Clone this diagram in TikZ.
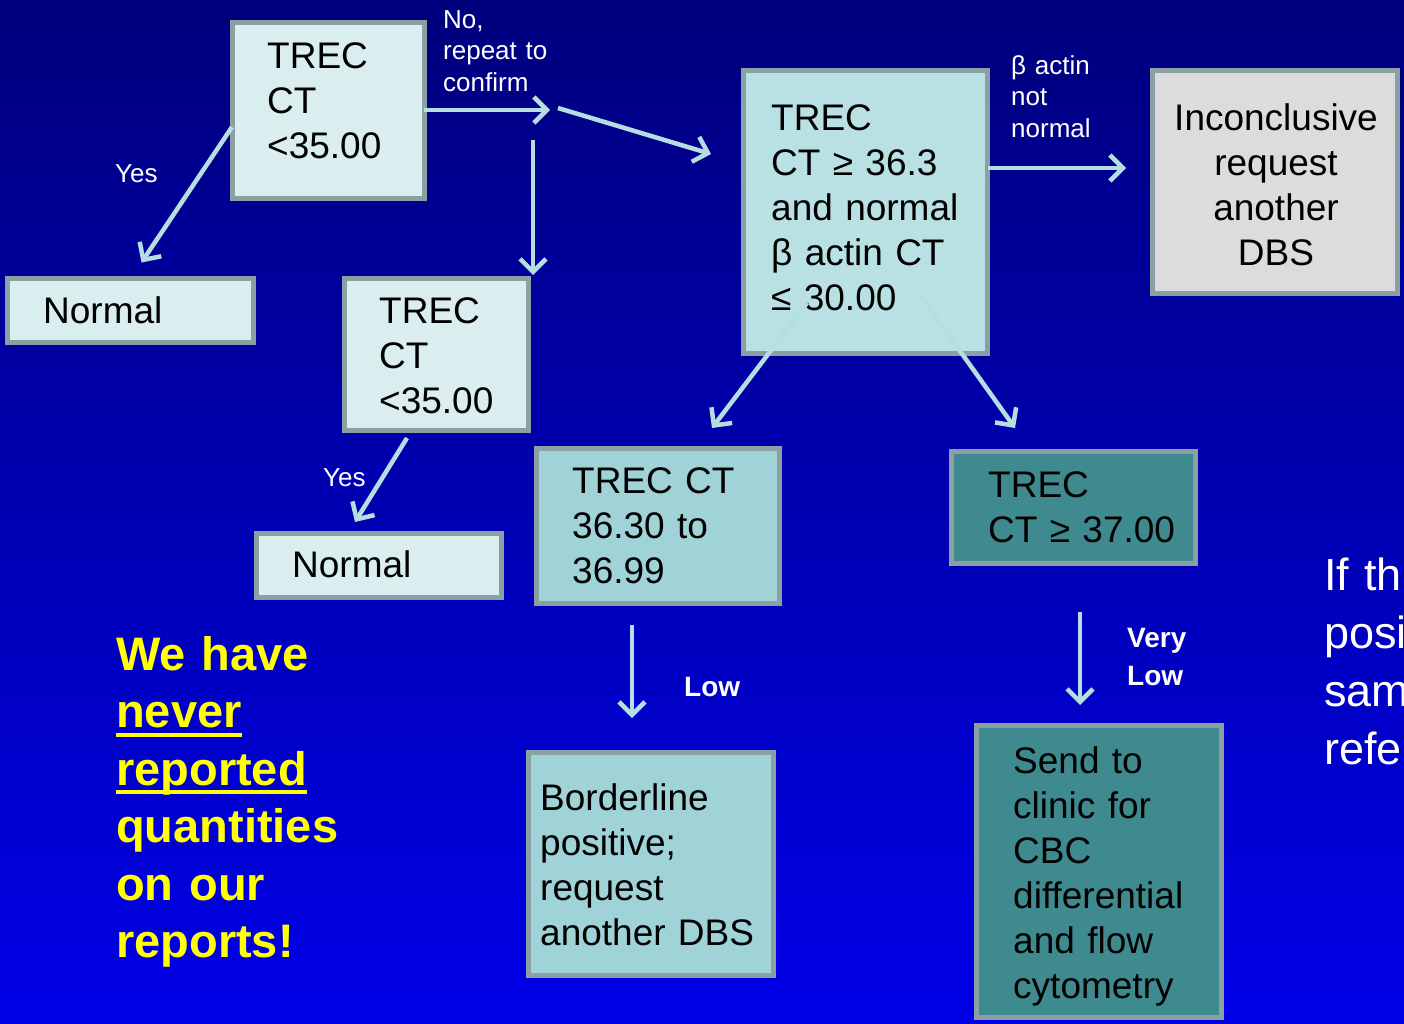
\documentclass[tikz,border=0pt]{standalone}
\usepackage{fontspec}
\setmainfont{Liberation Sans}
\usetikzlibrary{arrows.meta,calc}
\definecolor{bgtop}{RGB}{0,0,125}
\definecolor{bgbot}{RGB}{0,0,232}
\definecolor{bordc}{RGB}{138,160,163}
\definecolor{pale}{RGB}{218,237,239}
\definecolor{midc}{RGB}{185,224,227}
\definecolor{aqua}{RGB}{160,211,215}
\definecolor{tealc}{RGB}{62,138,142}
\definecolor{greyc}{RGB}{220,220,220}
\definecolor{arrc}{RGB}{180,222,226}
\definecolor{yel}{RGB}{255,255,0}
\newsavebox\ulbox
\newcommand\yul[1]{\leavevmode\sbox\ulbox{#1}\rlap{\rule[-9pt]{\wd\ulbox}{4pt}}\usebox\ulbox}
\begin{document}
\begin{tikzpicture}[x=1pt,y=-1pt,
  box/.style={draw=bordc,line width=5pt,rectangle,inner sep=0pt,outer sep=0pt,anchor=north west},
  txt/.style={font=\fontsize{37}{45}\selectfont,align=left,inner sep=0pt,anchor=base west,text=black},
  lab/.style={font=\fontsize{26}{31.5}\selectfont,align=left,inner sep=0pt,anchor=base west,text=white},
  blab/.style={font=\bfseries\fontsize{28}{38}\selectfont,align=left,inner sep=0pt,anchor=base west,text=white},
  arr/.style={draw=arrc,line width=4.5pt,-{Straight Barb[length=13pt,width=26pt]}}
]
\clip (0,0) rectangle (1404,1023);
\shade[top color=bgtop,bottom color=bgbot] (0,0) rectangle (1404,1023);

% boxes
\node[box,fill=pale,minimum width=192pt,minimum height=176pt] (A) at (232,22) {};
\node[box,fill=pale,minimum width=246pt,minimum height=64pt] (N1) at (7.5,278.5) {};
\node[box,fill=pale,minimum width=184pt,minimum height=152pt] (B) at (344.5,278.5) {};
\node[box,fill=pale,minimum width=245pt,minimum height=64pt] (N2) at (256.5,533.5) {};
\node[box,fill=midc,minimum width=244pt,minimum height=283pt] (C) at (743.5,70.5) {};
\node[box,fill=greyc,minimum width=245pt,minimum height=223pt] (I) at (1152.5,70.5) {};
\node[box,fill=aqua,minimum width=243pt,minimum height=155pt] (D) at (536.5,448.5) {};
\node[box,fill=tealc,minimum width=244pt,minimum height=112pt] (E) at (951.5,451.5) {};
\node[box,fill=aqua,minimum width=245pt,minimum height=223pt] (BL) at (528.5,752.5) {};
\node[box,fill=tealc,minimum width=245pt,minimum height=292pt] (S) at (976.5,725.5) {};

% box texts
\node[txt,text width=180pt] (At) at (267,68) {TREC\\CT\\<35.00};
\node[txt,text width=200pt] (N1t) at (43,323) {Normal};
\node[txt,text width=160pt] (Bt) at (379,323) {TREC\\CT\\<35.00};
\node[txt,text width=200pt] (N2t) at (292,577) {Normal};
\node[txt,text width=215pt] (Ct) at (771,130) {TREC\\CT ≥ 36.3\\and normal\\β actin CT\\≤ 30.00};
\node[txt,text width=240pt,align=center,anchor=base] (It) at (1276,130) {Inconclusive\\request\\another\\DBS};
\node[txt,text width=210pt] (Dt) at (572,493) {TREC CT\\36.30 to\\36.99};
\node[txt,text width=210pt] (Et) at (988,497) {TREC\\CT ≥ 37.00};
\node[txt,text width=235pt] (BLt) at (540,810) {Borderline\\positive;\\request\\another DBS};
\node[txt,text width=220pt] (St) at (1013,773) {Send to\\clinic for\\CBC\\differential\\and flow\\cytometry};

% labels
\node[lab,text width=120pt] (noL) at (443,28) {No,\\repeat to\\confirm};
\node[lab,text width=60pt] (y1) at (115,182) {Yes};
\node[lab,text width=60pt] (y2) at (323,486) {Yes};
\node[lab,text width=100pt] (bL) at (1011,74) {β actin\\not\\normal};
\node[blab,text width=80pt] (lowL) at (684,696) {Low};
\node[blab,text width=80pt] (vlL) at (1127,647) {Very\\Low};

\node[font=\bfseries\fontsize{47}{57.5}\selectfont,text=yel,align=left,text width=270pt,inner sep=0pt,anchor=base west] (msg) at (116,670)
  {We have\\\yul{never}\\\yul{reported}\\quantities\\on our\\reports!};
\node[font=\fontsize{45}{58}\selectfont,text=white,align=left,text width=200pt,inner sep=0pt,anchor=base west] (cut) at (1324,590)
  {If th\\posi\\sam\\refe};

% connectors
\coordinate (rp) at ($(A.east)+(126,0)$);
\coordinate (rp2) at ($(rp)+(8,-2)$);
\coordinate (rp3) at ($(rp)+(-17,30)$);
\draw[arr] ($(A.west)+(0,17)$) -- ($(N1.north)+(11,-16)$);
\draw[arr] (A.east) -- (rp);
\draw[arr] (rp2) -- ($(C.west)+(-32.5,-58)$);
\draw[arr] (rp3) -- ($(B.north east)+(4.5,-3.5)$);
\draw[arr] ($(B.south)+(-29.5,7.5)$) -- ($(N2.north)+(-24,-11.5)$);
\draw[arr] ($(C.east)+(0,-44)$) -- ($(I.west)+(-26.5,-14)$);
\draw[arr] ($(C.south)+(-58.5,-50.5)$) -- ($(D.north)+(54,-20.5)$);
\draw[arr] ($(C.south)+(54.5,-58.5)$) -- ($(E.north)+(-58.5,-23.5)$);
\draw[arr] ($(D.south)+(-26,21.5)$) -- ($(BL.north)+(-19,-34.5)$);
\draw[arr] ($(E.south)+(6.5,48.5)$) -- ($(S.north)+(-19,-20.5)$);
\end{tikzpicture}
\end{document}
